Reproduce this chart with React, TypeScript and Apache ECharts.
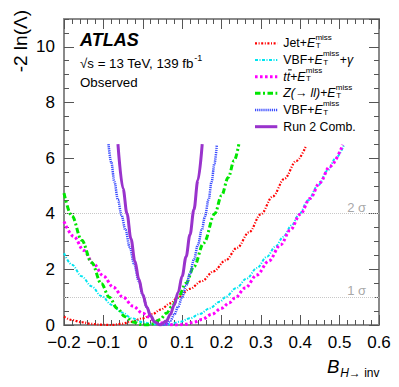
import React, { useEffect, useRef } from "react";
import * as echarts from "echarts";

// ---- data (x = B(H->inv), y = -2 ln(Lambda)) ----
const jetCurve: number[][] = [
  [-0.2, 0.3], [-0.18, 0.18], [-0.155, 0.1], [-0.13, 0.04], [-0.105, 0.01], [-0.08, 0.0],
  [-0.055, 0.04], [-0.03, 0.11], [0.0, 0.24], [0.025, 0.39], [0.045, 0.55], [0.07, 0.78],
  [0.09, 1.0], [0.12, 1.3], [0.15, 1.58], [0.18, 1.93], [0.21, 2.32], [0.24, 2.78],
  [0.27, 3.33], [0.3, 3.98], [0.33, 4.62], [0.36, 5.26], [0.39, 5.9], [0.415, 6.45],
];
const vbfPhotonCurve: number[][] = [
  [-0.2, 2.58], [-0.18, 2.17], [-0.155, 1.75], [-0.13, 1.39], [-0.105, 1.04], [-0.078, 0.72],
  [-0.053, 0.45], [-0.027, 0.24], [0.0, 0.1], [0.025, 0.03], [0.05, 0.0], [0.07, 0.03],
  [0.095, 0.12], [0.12, 0.24], [0.145, 0.4], [0.17, 0.6], [0.196, 0.84], [0.21, 1.0],
  [0.237, 1.32], [0.264, 1.67], [0.29, 2.05], [0.315, 2.45], [0.337, 2.82], [0.357, 3.17],
  [0.378, 3.58], [0.397, 3.98], [0.42, 4.48], [0.445, 5.02], [0.47, 5.56], [0.49, 6.0], [0.511, 6.47],
];
const ttbarCurve: number[][] = [
  [-0.2, 3.72], [-0.175, 3.18], [-0.15, 2.68], [-0.125, 2.2], [-0.1, 1.76], [-0.075, 1.36],
  [-0.05, 1.0], [-0.025, 0.68], [0.0, 0.42], [0.025, 0.2], [0.05, 0.07], [0.07, 0.01],
  [0.09, 0.0], [0.11, 0.03], [0.13, 0.1], [0.15, 0.2], [0.175, 0.38], [0.2, 0.6], [0.22, 0.8],
  [0.235, 0.98], [0.26, 1.33], [0.29, 1.8], [0.32, 2.3], [0.35, 2.88], [0.375, 3.42],
  [0.4, 3.98], [0.425, 4.55], [0.45, 5.12], [0.475, 5.7], [0.508, 6.48],
];
const zllCurve: number[][] = [
  [-0.2, 4.74], [-0.18, 3.92], [-0.155, 3.05], [-0.13, 2.25], [-0.105, 1.48], [-0.085, 1.0],
  [-0.065, 0.6], [-0.045, 0.3], [-0.025, 0.11], [-0.005, 0.02], [0.01, 0.0], [0.025, 0.04],
  [0.044, 0.2], [0.06, 0.42], [0.075, 0.68], [0.09, 1.0], [0.11, 1.5], [0.13, 2.1],
  [0.155, 2.95], [0.183, 4.0], [0.2, 4.65], [0.217, 5.3], [0.232, 5.9], [0.244, 6.5],
];
const vbfCurve: number[][] = [
  [-0.087, 6.5], [-0.08, 5.85], [-0.072, 5.15], [-0.063, 4.5], [-0.054, 3.95], [-0.044, 3.42],
  [-0.033, 2.8], [-0.022, 2.2], [-0.01, 1.58], [0.0, 1.08], [0.01, 0.65], [0.02, 0.33],
  [0.03, 0.13], [0.04, 0.03], [0.05, 0.0], [0.06, 0.03], [0.07, 0.15], [0.08, 0.37],
  [0.09, 0.66], [0.1, 1.0], [0.11, 1.4], [0.12, 1.85], [0.13, 2.35], [0.14, 2.88],
  [0.15, 3.42], [0.158, 3.9], [0.167, 4.5], [0.175, 5.15], [0.182, 5.8], [0.188, 6.45],
];
const combCurve: number[][] = [
  [-0.063, 6.5], [-0.05, 4.9], [-0.04, 4.0], [-0.03, 3.1], [-0.02, 2.3], [-0.01, 1.65],
  [0.0, 1.1], [0.01, 0.65], [0.02, 0.33], [0.03, 0.11], [0.044, 0.0], [0.06, 0.14],
  [0.07, 0.38], [0.08, 0.72], [0.09, 1.18], [0.1, 1.75], [0.11, 2.45], [0.12, 3.25],
  [0.13, 4.15], [0.14, 5.2], [0.151, 6.5],
];
const seriesNames = ["Jet+ETmiss", "VBF+ETmiss+gamma", "ttbar+ETmiss", "Z(->ll)+ETmiss", "VBF+ETmiss", "Run 2 Comb."];
const sigmaLevels = [1, 4];
const sigmaLabels = ["1 σ", "2 σ"];
const xMin = -0.2, xMax = 0.6, xStep = 0.1;
const yMin = 0, yMax = 11, yStep = 2;

// legend label pieces: n = normal, i = italic, ET = E_T^miss, tbar = italic t with bar
const legendParts: [string, string][][] = [
  [["Jet+", "n"], ["E", "ET"]],
  [["VBF+", "n"], ["E", "ET"], ["+", "n"], ["γ", "i"]],
  [["t", "i"], ["t", "tbar"], ["+", "n"], ["E", "ET"]],
  [["Z(→ ll)", "i"], ["+", "n"], ["E", "ET"]],
  [["VBF+", "n"], ["E", "ET"]],
  [["Run 2 Comb.", "n"]],
];

const FF = "'Liberation Sans', Arial, Helvetica, sans-serif";

const styles = [
  { color: "#ff0000", width: 2.2, dash: [2, 1.6, 1, 1.6] },
  { color: "#00e5f0", width: 2, dash: [3, 1.5, 1, 1.5] },
  { color: "#ff00ff", width: 3, dash: [2.6, 2.4] },
  { color: "#00e600", width: 3, dash: [5.5, 2.5, 2, 2.5] },
  { color: "#3a4cff", width: 2.5, dash: [1.2, 0.9] },
  { color: "#9933cc", width: 3, dash: null as any },
];

export default function App() {
  const ref = useRef<HTMLDivElement>(null);
  useEffect(() => {
    if (!ref.current) return;
    const chart = echarts.init(ref.current, undefined, { renderer: "svg" });
    const canvas = document.createElement("canvas");
    const ctx = canvas.getContext("2d")!;
    const tw = (t: string, size: number, italic = false, bold = false) => {
      ctx.font = `${italic ? "italic " : ""}${bold ? "bold " : ""}${size}px ${FF}`;
      return ctx.measureText(t).width;
    };
    const textEl = (t: string, x: number, y: number, size: number, o: any = {}) => ({
      type: "text",
      x,
      y,
      rotation: o.rotation || 0,
      silent: true,
      z: 20,
      style: {
        text: t,
        fontSize: size,
        fontFamily: FF,
        fontStyle: o.italic ? "italic" : "normal",
        fontWeight: o.bold ? "bold" : "normal",
        fill: o.fill || "#000",
        align: o.align || "left",
        textAlign: o.align || "left",
        verticalAlign: "middle",
        textVerticalAlign: "middle",
      },
    });

    const els: any[] = [];
    // top-left labels
    els.push(textEl("ATLAS", 80, 39.7, 18, { italic: true, bold: true }));
    const sLine = "√s = 13 TeV, 139 fb";
    els.push(textEl(sLine, 80, 63, 13.3));
    els.push(textEl("-1", 80 + tw(sLine, 13.3) + 0.5, 57.5, 9));
    els.push(textEl("Observed", 80, 82.3, 13.3));

    // legend
    const LX0 = 255, LX1 = 277.3, TX = 283.3, LY0 = 43.3, LDY = 16.68, LFS = 12.3, SFS = 8;
    legendParts.forEach((parts, i) => {
      const y = LY0 + i * LDY;
      const st = styles[i];
      els.push({
        type: "line",
        silent: true,
        z: 20,
        shape: { x1: LX0, y1: y, x2: LX1, y2: y },
        style: { stroke: st.color, lineWidth: st.width, lineDash: st.dash || undefined },
      });
      let cx = TX;
      for (const [t, k] of parts) {
        if (k === "ET") {
          const wE = tw("E", LFS, true);
          els.push(textEl("E", cx, y, LFS, { italic: true }));
          els.push(textEl("miss", cx + wE + 0.3, y - 6.1, SFS));
          els.push(textEl("T", cx + wE + 0.6, y + 2.2, SFS));
          cx += wE + Math.max(tw("miss", SFS), tw("T", SFS) + 0.6) + 0.8;
        } else if (k === "tbar") {
          const w = tw(t, LFS, true);
          els.push(textEl(t, cx, y, LFS, { italic: true }));
          els.push({
            type: "line",
            silent: true,
            z: 20,
            shape: { x1: cx + 1.4, y1: y - 6.8, x2: cx + w + 1.6, y2: y - 6.8 },
            style: { stroke: "#000", lineWidth: 1 },
          });
          cx += w;
        } else {
          const it = k === "i";
          els.push(textEl(t, cx, y, LFS, { italic: it }));
          cx += tw(t, LFS, it);
        }
      }
    });

    // sigma labels
    els.push(textEl(sigmaLabels[0], 366, 290.5, 13, { align: "right", fill: "#a8a8a8" }));
    els.push(textEl(sigmaLabels[1], 366, 207, 13, { align: "right", fill: "#a8a8a8" }));

    // y-axis title
    els.push(textEl("-2 ln(Λ)", 20, 10, 19, { align: "right", rotation: Math.PI / 2 }));

    // x-axis title
    const wB = tw("B", 18.6, true);
    els.push(textEl("B", 327, 366, 18.6, { italic: true }));
    let sx = 327 + wB + 0.8;
    els.push(textEl("H", sx, 372.8, 12, { italic: true }));
    sx += tw("H", 12, true);
    els.push(textEl("→ inv", sx, 372.8, 12));

    const axisLineStyle = { color: "#8a8a8a", width: 2 };
    const tickStyle = { color: "#555", width: 1 };
    const fmtX = (v: number) => {
      if (Math.abs(v) < 1e-9) return "0";
      return (v < 0 ? "\u2212" : "") + Math.abs(v).toFixed(1);
    };

    const xBase = (pos: string, showLabel: boolean) => ({
      type: "value",
      position: pos,
      min: xMin,
      max: xMax,
      interval: xStep,
      axisLine: { show: true, onZero: false, lineStyle: axisLineStyle },
      axisTick: { show: true, inside: true, length: 10, lineStyle: tickStyle },
      minorTick: { show: true, splitNumber: 5, length: 5, lineStyle: tickStyle },
      splitLine: { show: false },
      minorSplitLine: { show: false },
      axisLabel: {
        show: showLabel,
        fontSize: 17,
        fontFamily: FF,
        color: "#000",
        margin: 9,
        formatter: fmtX,
      },
    });
    const yMajor = (pos: string, showLabel: boolean) => ({
      type: "value",
      position: pos,
      min: yMin,
      max: yMax,
      interval: yStep,
      axisLine: { show: true, onZero: false, lineStyle: axisLineStyle },
      axisTick: { show: true, inside: true, length: 10, lineStyle: tickStyle },
      splitLine: { show: false },
      axisLabel: {
        show: showLabel,
        fontSize: 17,
        fontFamily: FF,
        color: "#000",
        margin: 9,
        showMaxLabel: false,
        formatter: (v: number) => (v > 10.5 ? "" : String(v)),
      },
    });
    const yMinor = (pos: string) => ({
      type: "value",
      position: pos,
      min: yMin,
      max: yMax,
      interval: 0.5,
      axisLine: { show: false, onZero: false },
      axisTick: { show: true, inside: true, length: 5, lineStyle: tickStyle },
      splitLine: { show: false },
      axisLabel: { show: false },
    });

    const curves = [jetCurve, vbfPhotonCurve, ttbarCurve, zllCurve, vbfCurve, combCurve];
    const series: any[] = curves.map((c, i) => ({
      type: "line",
      name: seriesNames[i],
      data: c,
      xAxisIndex: 0,
      yAxisIndex: 0,
      symbol: "none",
      showSymbol: false,
      smooth: 0.35,
      smoothMonotone: "x",
      z: 2 + i,
      lineStyle: {
        color: styles[i].color,
        width: styles[i].width,
        type: styles[i].dash || "solid",
        cap: "butt",
      },
      ...(i === 0
        ? {
            markLine: {
              silent: true,
              symbol: "none",
              z: 1,
              label: { show: false },
              lineStyle: { type: "dotted", color: "#c8c8c8", width: 1 },
              data: sigmaLevels.map((v) => ({ yAxis: v })),
            },
          }
        : {}),
    }));

    chart.setOption({
      animation: false,
      backgroundColor: "#fff",
      grid: { left: 64, right: 20, top: 19, bottom: 62, show: false },
      xAxis: [xBase("bottom", true), xBase("top", false)],
      yAxis: [yMajor("left", true), yMinor("left"), yMajor("right", false), yMinor("right")],
      series,
      graphic: els,
    });
    return () => chart.dispose();
  }, []);
  return (
    <div
      ref={ref}
      style={{ position: "fixed", left: 0, top: 0, width: 399, height: 387, background: "#fff" }}
    />
  );
}
